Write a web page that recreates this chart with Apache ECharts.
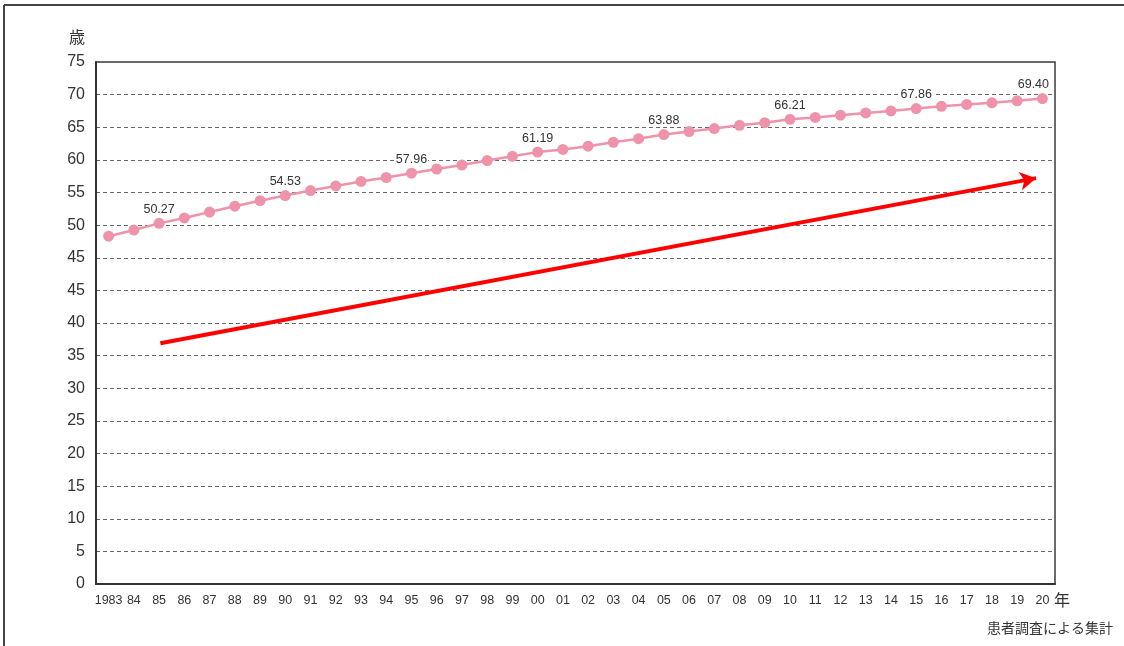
<!DOCTYPE html>
<html>
<head>
<meta charset="utf-8">
<script src="https://cdn.jsdelivr.net/npm/echarts@6/dist/echarts.min.js"></script>
<style>
  html, body { margin: 0; padding: 0; background: #fff; }
  #chart { width: 1124px; height: 646px; }
</style>
</head>
<body>
<div id="chart"></div>
<script>
// 患者の平均年齢の推移 (1983 - 2020)
const years = ['1983', '84', '85', '86', '87', '88', '89', '90', '91', '92',
  '93', '94', '95', '96', '97', '98', '99', '00', '01', '02',
  '03', '04', '05', '06', '07', '08', '09', '10', '11', '12',
  '13', '14', '15', '16', '17', '18', '19', '20'];

const avgAge = [48.3, 49.25, 50.27, 51.1, 52.0, 52.9, 53.75, 54.53, 55.3, 56.0,
  56.7, 57.3, 57.96, 58.6, 59.2, 59.9, 60.55, 61.19, 61.6, 62.1,
  62.7, 63.25, 63.88, 64.35, 64.8, 65.3, 65.7, 66.21, 66.5, 66.85,
  67.2, 67.5, 67.86, 68.2, 68.5, 68.75, 69.05, 69.40];

// years whose value is written above the point
const labeledYears = ['85', '90', '95', '00', '05', '10', '15', '20'];

// the original axis prints "45" twice, so everything above it sits one step higher
const yTickLabels = ['0', '5', '10', '15', '20', '25', '30', '35', '40', '45',
  '45', '50', '55', '60', '65', '70', '75'];
const axisShift = 5;

// trend arrow: [year index, axis value] for start and end
const arrowFrom = [2.05, 36.9];
const arrowTo = [36.75, 62.2];

const chart = echarts.init(document.getElementById('chart'));

const seriesData = avgAge.map((v, i) => {
  const item = { value: v + axisShift, raw: v };
  if (labeledYears.indexOf(years[i]) >= 0) {
    item.label = { show: true };
    if (i === years.length - 1) item.label.offset = [-9, 0];
  }
  return item;
});

const option = {
  animation: false,
  backgroundColor: '#fff',
  textStyle: { fontFamily: '"Liberation Sans", Arial, sans-serif' },
  grid: {
    left: 96, right: 69, top: 62, bottom: 62,
    show: true, borderColor: '#3a3a3a', borderWidth: 1.5
  },
  xAxis: [{
    type: 'category',
    data: years,
    boundaryGap: true,
    axisLine: { onZero: false, lineStyle: { color: '#333', width: 2 } },
    axisTick: { inside: true, length: 5, lineStyle: { color: '#666' } },
    axisLabel: { color: '#333', fontSize: 12.5, margin: 10, interval: 0 },
    splitLine: { show: false }
  }, {
    // hidden continuous copy of the year axis, so the arrow can sit between years
    type: 'value',
    min: -0.5, max: years.length - 0.5,
    show: false
  }],
  yAxis: {
    type: 'value',
    min: 0, max: 80, interval: 5,
    axisLine: { show: true, onZero: false, lineStyle: { color: '#333', width: 2 } },
    axisTick: { show: false },
    axisLabel: {
      color: '#333', fontSize: 16, margin: 11,
      formatter: v => yTickLabels[Math.round(v / 5)]
    },
    splitLine: { lineStyle: { color: '#666', type: [4, 3], width: 1 } }
  },
  series: [{
    type: 'line',
    data: seriesData,
    symbol: 'circle',
    symbolSize: 11,
    lineStyle: { color: '#EE93AA', width: 2.5 },
    itemStyle: { color: '#EE93AA' },
    label: {
      show: false,
      position: 'top',
      distance: 2,
      color: '#333',
      fontSize: 12.5,
      backgroundColor: '#fff',
      padding: [0, 1],
      formatter: p => p.data.raw.toFixed(2)
    },
    z: 3
  }, {
    type: 'line',
    xAxisIndex: 1,
    data: [],
    markLine: {
      silent: true,
      symbol: ['none', 'arrow'],
      symbolSize: [14, 16],
      label: { show: false },
      lineStyle: { color: '#FF0000', width: 4, type: 'solid' },
      data: [[{ coord: arrowFrom }, { coord: arrowTo }]]
    },
    z: 4
  }],
  graphic: [
    { type: 'line', shape: { x1: 4, y1: 5, x2: 1124, y2: 5 }, style: { stroke: '#444', lineWidth: 2 } },
    { type: 'line', shape: { x1: 4, y1: 5, x2: 4, y2: 646 }, style: { stroke: '#444', lineWidth: 2 } },
    { type: 'text', x: 77, y: 37, style: { text: '歳', font: '16px "Noto Sans CJK JP"', fill: '#333', align: 'center', verticalAlign: 'middle' } },
    { type: 'text', x: 1054, y: 600, style: { text: '年', font: '16px "Noto Sans CJK JP"', fill: '#333', align: 'left', verticalAlign: 'middle' } },
    { type: 'text', x: 1113, y: 628, style: { text: '患者調査による集計', font: '14px "Noto Sans CJK JP"', fill: '#333', align: 'right', verticalAlign: 'middle' } }
  ]
};

chart.setOption(option);
</script>
</body>
</html>
